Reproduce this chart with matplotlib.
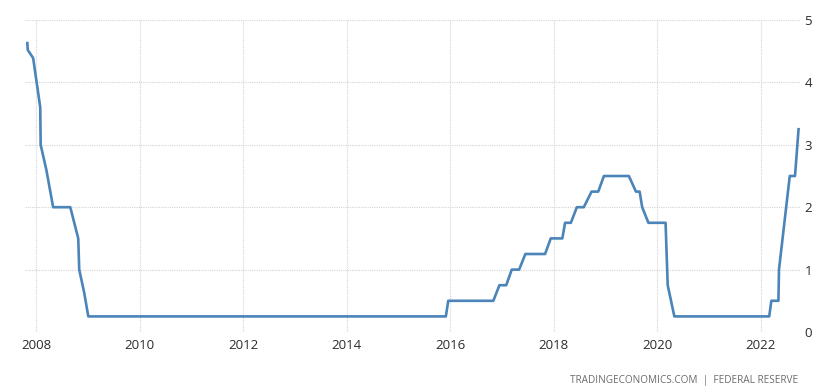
import matplotlib
matplotlib.use("Agg")
import matplotlib.pyplot as plt
import matplotlib.dates as mdates
import pandas as pd

# Fed funds rate
fechas = [
    "2007-11-01", "2007-11-04", "2007-12-12", "2008-01-31", "2008-02-03",
    "2008-03-14", "2008-05-01", "2008-08-30", "2008-10-25", "2008-11-01",
    "2008-12-06", "2009-01-04", "2015-12-01", "2015-12-18", "2016-10-31",
    "2016-12-13", "2017-01-30", "2017-03-10", "2017-05-01", "2017-06-14",
    "2017-10-31", "2017-12-10", "2018-03-02", "2018-03-21", "2018-05-01",
    "2018-06-12", "2018-07-31", "2018-09-24", "2018-11-10", "2018-12-20",
    "2019-06-14", "2019-08-03", "2019-08-29", "2019-09-16", "2019-10-30",
    "2020-02-28", "2020-03-14", "2020-04-30", "2022-02-28", "2022-03-15",
    "2022-05-04", "2022-05-08", "2022-07-23", "2022-08-29", "2022-09-23",
]
tasa = [
    4.63, 4.52, 4.39, 3.60, 3.00,
    2.60, 2.00, 2.00, 1.50, 1.00,
    0.63, 0.25, 0.25, 0.50, 0.50,
    0.75, 0.75, 1.00, 1.00, 1.25,
    1.25, 1.50, 1.50, 1.75, 1.75,
    2.00, 2.00, 2.25, 2.25, 2.50,
    2.50, 2.25, 2.25, 2.00, 1.75,
    1.75, 0.75, 0.25, 0.25, 0.50,
    0.50, 1.00, 2.50, 2.50, 3.25,
]
anios_ticks = [2008, 2010, 2012, 2014, 2016, 2018, 2020, 2022]
y_ticks = [0, 1, 2, 3, 4, 5]
fuente = "TRADINGECONOMICS.COM  |  FEDERAL RESERVE"

plt.rcParams["font.family"] = ["Open Sans", "DejaVu Sans"]

fechas_dt = pd.to_datetime(fechas)

fig = plt.figure(figsize=(8.31, 3.90), dpi=100)
ax = fig.add_axes([0.030, 0.1487, 0.933, 0.80])

ax.plot(fechas_dt, tasa, color="#4a84b8", linewidth=1.9, solid_joinstyle="round")

ax.set_xlim(pd.Timestamp("2007-10-15"), pd.Timestamp("2022-10-05"))
ax.set_ylim(0, 5)

ax.set_xticks([pd.Timestamp(f"{a}-01-01") for a in anios_ticks])
ax.xaxis.set_major_formatter(mdates.DateFormatter("%Y"))
ax.set_yticks(y_ticks)
ax.yaxis.tick_right()

ax.tick_params(axis="both", length=0, labelsize=9.5, labelcolor="#2b2b2b")
ax.tick_params(axis="x", pad=5)
ax.tick_params(axis="y", pad=3)

ax.grid(True, color="#d4d4d4", linestyle=(0, (1, 1)), linewidth=0.8)
ax.set_axisbelow(True)
for s in ax.spines.values():
    s.set_visible(False)

fig.text(0.961, 0.010, fuente, ha="right", va="bottom", fontsize=7.2, color="#6b6b6b")

fig.savefig("out.png", dpi=100)
